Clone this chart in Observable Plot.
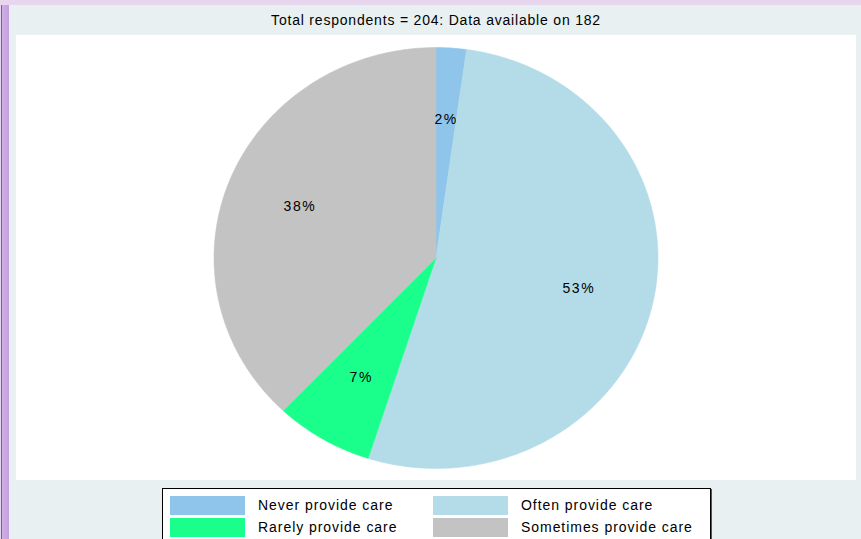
<!DOCTYPE html>
<html>
<head>
<meta charset="utf-8">
<script src="https://cdn.jsdelivr.net/npm/d3@7"></script>
<script src="https://cdn.jsdelivr.net/npm/@observablehq/plot@0.6"></script>
<style>
  html, body { margin: 0; padding: 0; }
  body { width: 861px; height: 539px; overflow: hidden; position: relative; background: #e8f0f2; font-family: "Liberation Sans", Arial, sans-serif; }
  #topstrip { position: absolute; left: 0; top: 0; width: 861px; height: 5px; background: #e8d6ef; }
  #leftstrip { position: absolute; left: 0; top: 5px; width: 9px; height: 534px; background: linear-gradient(to right, #e8d6ef 0px, #e8d6ef 1px, #9a48ad 1px, #9a48ad 2px, #cfb0e6 2px, #c3a0df 9px); }
  #panel { position: absolute; left: 16px; top: 35px; width: 840px; height: 445px; background: #ffffff; }
  #chart { position: absolute; left: 16px; top: 35px; }
  #title { position: absolute; left: 16px; width: 840px; top: 12px; text-align: center; font-size: 14px; letter-spacing: 0.8px; color: #000; }
  #legend { position: absolute; left: 162px; top: 488px; width: 547px; height: 60px; border: 1px solid #000; box-shadow: 1px 1px 0 #555; background: #fff; }
  .item { position: absolute; font-size: 14px; letter-spacing: 0.95px; color: #000; line-height: 19px; }
  .sw { position: absolute; width: 75px; height: 19px; }
</style>
</head>
<body>
<div id="topstrip"></div>
<div id="leftstrip"></div>
<div id="panel"></div>
<div id="title"></div>
<div id="chart"></div>
<div id="legend"></div>
<script>
// Data: counts out of 182 respondents with data
const titleText = "Total respondents = 204: Data available on 182";
const categories = ["Never provide care", "Often provide care", "Rarely provide care", "Sometimes provide care"];
const counts = [4, 96, 13, 69];
const percentLabels = ["2%", "53%", "7%", "38%"];
const colors = ["#8fc5ea", "#b3dce8", "#1aff8c", "#c3c3c3"];
// legend order (row-major, 2 columns)
const legendOrder = ["Never provide care", "Often provide care", "Rarely provide care", "Sometimes provide care"];

document.getElementById("title").textContent = titleText;

const pie = d3.pie().sort(null).value(d => d.count);
const rows = categories.map((c, i) => ({cat: c, count: counts[i], label: percentLabels[i]}));
const arcs = pie(rows);

// Polygon vertices for each slice (unit circle, angle 0 at 12 o'clock, clockwise)
const pts = [];
arcs.forEach(a => {
  const n = Math.max(2, Math.ceil((a.endAngle - a.startAngle) / 0.01));
  pts.push({cat: a.data.cat, x: 0, y: 0});
  for (let k = 0; k <= n; k++) {
    const t = a.startAngle + (a.endAngle - a.startAngle) * k / n;
    pts.push({cat: a.data.cat, x: Math.sin(t), y: Math.cos(t)});
  }
  pts.push({cat: a.data.cat, x: 0, y: 0});
});
const labels = arcs.map(a => {
  const m = (a.startAngle + a.endAngle) / 2;
  return {label: a.data.label, x: 0.66 * Math.sin(m), y: 0.66 * Math.cos(m)};
});

const chart = Plot.plot({
  width: 840,
  height: 445,
  margin: 0,
  style: {background: "transparent", fontFamily: "Liberation Sans, Arial, sans-serif", letterSpacing: "1.6px"},
  x: {domain: [-1, 1], range: [197.5, 641.5], axis: null},
  y: {domain: [-1, 1], range: [433, 12], axis: null},
  color: {domain: categories, range: colors},
  marks: [
    Plot.line(pts, {x: "x", y: "y", z: "cat", fill: "cat", stroke: "cat", strokeWidth: 0.5, curve: "linear"}),
    Plot.text(labels, {x: "x", y: "y", text: "label", fontSize: 14, fill: "#000"})
  ]
});
document.getElementById("chart").appendChild(chart);

// Legend
const legend = document.getElementById("legend");
const colX = [7, 270];
const rowY = [7, 29];
legendOrder.forEach((c, i) => {
  const col = i % 2, row = Math.floor(i / 2);
  const sw = document.createElement("div");
  sw.className = "sw";
  sw.style.left = colX[col] + "px";
  sw.style.top = rowY[row] + "px";
  sw.style.background = colors[categories.indexOf(c)];
  legend.appendChild(sw);
  const t = document.createElement("div");
  t.className = "item";
  t.style.left = (colX[col] + 88) + "px";
  t.style.top = (rowY[row]) + "px";
  t.textContent = c;
  legend.appendChild(t);
});
</script>
</body>
</html>
